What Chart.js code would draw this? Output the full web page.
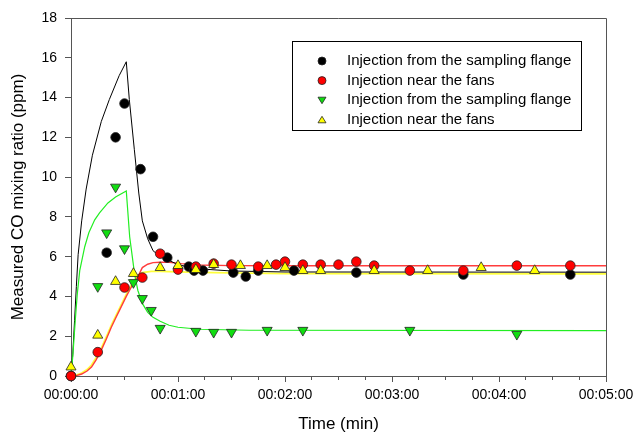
<!DOCTYPE html>
<html>
<head>
<meta charset="utf-8">
<script src="https://cdn.jsdelivr.net/npm/chart.js@4.4.1/dist/chart.umd.min.js"></script>
<style>
    body { margin: 0; background: #fff; }
    #wrap { width: 640px; height: 437px; }
</style>
</head>
<body>
<div id="wrap"><canvas id="coChart" width="640" height="437"></canvas></div>
<script>
// time in seconds, CO in ppm
const flangeT = [0, 20, 25, 30, 39, 46, 54, 66, 69, 74, 91, 98, 105, 125, 160, 220, 280];
const flangeY = [0, 6.2, 12.0, 13.7, 10.4, 7.0, 5.95, 5.5, 5.3, 5.3, 5.2, 5.0, 5.3, 5.3, 5.2, 5.1, 5.1];

const fansT = [0, 15, 30, 40, 50, 60, 70, 80, 90, 105, 115, 120, 130, 140, 150, 160, 170, 190, 220, 250, 280];
const fansY = [0, 1.2, 4.45, 4.95, 6.15, 5.35, 5.5, 5.65, 5.6, 5.5, 5.6, 5.75, 5.6, 5.6, 5.6, 5.75, 5.55, 5.3, 5.3, 5.55, 5.55];

const flange2T = [15, 20, 25, 30, 35, 40, 45, 50, 70, 80, 90, 110, 130, 190, 250];
const flange2Y = [4.5, 7.2, 9.5, 6.4, 4.7, 3.9, 3.3, 2.4, 2.25, 2.2, 2.2, 2.3, 2.3, 2.3, 2.1];

const fans2T = [0, 15, 25, 35, 50, 60, 70, 80, 95, 110, 120, 130, 140, 170, 200, 230, 260];
const fans2Y = [0.45, 2.05, 4.75, 5.15, 5.45, 5.55, 5.35, 5.6, 5.55, 5.55, 5.45, 5.3, 5.3, 5.3, 5.3, 5.45, 5.3];

// model curves
const flangeFitT = [0, 1, 2, 3, 4, 6, 8.5, 12, 17, 21.5, 27, 31, 32.7, 35.5, 38, 40, 43, 46, 50, 54, 60, 70, 90, 120, 300];
const flangeFitY = [0, 1.1, 2.8, 4.5, 6.1, 7.8, 9.4, 11.1, 12.8, 13.9, 15.1, 15.8, 13.9, 11.4, 9.2, 7.8, 6.9, 6.3, 6.0, 5.85, 5.6, 5.4, 5.28, 5.23, 5.22];

const fansFitT = [0, 3, 6, 9, 11.5, 14, 17, 20, 22.6, 25, 28, 31, 34, 37.5, 40, 43, 46, 50, 55, 62, 72, 90, 120, 300];
const fansFitY = [0, 0.02, 0.1, 0.25, 0.45, 0.8, 1.3, 1.9, 2.45, 2.9, 3.45, 4.0, 4.5, 5.0, 5.45, 5.62, 5.7, 5.72, 5.72, 5.65, 5.58, 5.55, 5.54, 5.54];

const flange2FitT = [0, 1, 2.4, 3.5, 4.9, 7.7, 10, 13.3, 16, 20.7, 25, 31, 32.9, 35.7, 37.5, 40, 43, 46, 50, 55, 60, 72, 100, 300];
const flange2FitY = [0, 1.0, 2.8, 4.1, 5.3, 6.5, 7.2, 7.85, 8.2, 8.7, 9.0, 9.3, 7.0, 5.1, 4.3, 3.65, 3.2, 2.95, 2.75, 2.55, 2.45, 2.35, 2.3, 2.28];

const fans2FitT = [0, 3, 6, 9, 11.5, 14, 17, 20, 22.6, 25, 28, 31, 34, 37, 40, 45, 50, 60, 80, 120, 300];
const fans2FitY = [0, 0.05, 0.15, 0.32, 0.55, 0.9, 1.4, 2.0, 2.55, 3.0, 3.55, 4.1, 4.6, 5.0, 5.2, 5.26, 5.26, 5.24, 5.2, 5.15, 5.13];

const seriesNames = ['Injection from the sampling flange', 'Injection near the fans',
                     'Injection from the sampling flange', 'Injection near the fans'];
const timeLabels = ['00:00:00', '00:01:00', '00:02:00', '00:03:00', '00:04:00', '00:05:00'];

function pairs(t, y) {
    return t.map(function(v, i) { return {x: v, y: y[i]}; });
}

const FONT = "'Liberation Sans', Arial, sans-serif";

function markerSet(label, t, y, fill, style, rotation, radius, order) {
    return {
        label: label,
        data: pairs(t, y),
        showLine: false,
        pointStyle: style,
        rotation: rotation,
        pointRadius: radius,
        pointBackgroundColor: fill,
        pointBorderColor: '#222',
        pointBorderWidth: 0.8,
        order: order,
        clip: false
    };
}

function curveSet(t, y, color, width, order) {
    return {
        data: pairs(t, y),
        showLine: true,
        borderColor: color,
        borderWidth: width,
        pointRadius: 0,
        tension: 0,
        order: order,
        clip: false
    };
}

// box round the plot and the legend inside it
const framePlugin = {
    id: 'frame',
    afterDraw: function(chart) {
        const ctx = chart.ctx;
        const a = chart.chartArea;
        ctx.save();
        ctx.strokeStyle = '#555';
        ctx.lineWidth = 1;
        ctx.beginPath();
        ctx.moveTo(a.left, a.top + 0.5);
        ctx.lineTo(a.right + 0.5, a.top + 0.5);
        ctx.lineTo(a.right + 0.5, a.bottom);
        ctx.stroke();

        // legend
        const bx = 292.5, by = 41.5, bw = 289, bh = 89;
        ctx.strokeStyle = '#000';
        ctx.strokeRect(bx, by, bw, bh);
        const marks = [
            {fill: '#000', style: 'circle'},
            {fill: '#ff0000', style: 'circle'},
            {fill: '#11dd11', style: 'down'},
            {fill: '#ffff00', style: 'up'}
        ];
        ctx.font = '15px ' + FONT;
        ctx.textBaseline = 'middle';
        for (let i = 0; i < seriesNames.length; i++) {
            const cy = 61 + i * 19.6;
            const cx = 322;
            const m = marks[i];
            ctx.fillStyle = m.fill;
            ctx.strokeStyle = '#222';
            ctx.lineWidth = 0.8;
            ctx.beginPath();
            if (m.style === 'circle') {
                ctx.arc(cx, cy, 4, 0, Math.PI * 2);
            } else if (m.style === 'down') {
                ctx.moveTo(cx - 4, cy - 3);
                ctx.lineTo(cx + 4, cy - 3);
                ctx.lineTo(cx, cy + 3.5);
                ctx.closePath();
            } else {
                ctx.moveTo(cx - 4, cy + 3);
                ctx.lineTo(cx + 4, cy + 3);
                ctx.lineTo(cx, cy - 3.5);
                ctx.closePath();
            }
            ctx.fill();
            ctx.stroke();
            ctx.fillStyle = '#000';
            ctx.fillText(seriesNames[i], 347, cy);
        }
        ctx.restore();
    }
};

document.addEventListener('DOMContentLoaded', function() {
    const ctx = document.getElementById('coChart');
    new Chart(ctx.getContext('2d'), {
        type: 'scatter',
        data: {
            datasets: [
                markerSet(seriesNames[0], flangeT, flangeY, '#000', 'circle', 0, 4.8, 3),
                markerSet(seriesNames[1], fansT, fansY, '#ff0000', 'circle', 0, 4.8, 1),
                markerSet(seriesNames[2], flange2T, flange2Y, '#11dd11', 'triangle', 180, 5.8, 2),
                markerSet(seriesNames[3], fans2T, fans2Y, '#ffff00', 'triangle', 0, 5.8, 0),
                curveSet(flangeFitT, flangeFitY, '#000', 1, 5),
                curveSet(fansFitT, fansFitY, 'rgb(255,60,60)', 1.4, 6),
                curveSet(flange2FitT, flange2FitY, '#22ee22', 1.2, 4),
                curveSet(fans2FitT, fans2FitY, 'rgb(255,255,60)', 1.8, 7)
            ]
        },
        options: {
            responsive: false,
            animation: false,
            layout: {
                padding: {left: 0, right: 34, top: 18, bottom: 0}
            },
            plugins: {
                legend: { display: false },
                tooltip: { enabled: false }
            },
            scales: {
                x: {
                    type: 'linear',
                    min: 0,
                    max: 300,
                    weight: 1,
                    afterFit: function(scale) { scale.height = 61; },
                    ticks: {
                        stepSize: 60,
                        autoSkip: false,
                        maxRotation: 0,
                        padding: 5,
                        color: '#000',
                        font: { family: FONT, size: 14 },
                        callback: function(value) {
                            return timeLabels[Math.round(value / 60)];
                        }
                    },
                    grid: {
                        drawOnChartArea: false,
                        tickLength: 6,
                        tickColor: '#555'
                    },
                    border: { color: '#555' },
                    title: {
                        display: true,
                        text: 'Time (min)',
                        color: '#000',
                        font: { family: FONT, size: 17 },
                        padding: { top: 0, bottom: 2 }
                    }
                },
                xMinor: {
                    type: 'linear',
                    position: 'bottom',
                    min: 0,
                    max: 300,
                    weight: 0,
                    afterFit: function(scale) { scale.height = 0; },
                    ticks: { stepSize: 15, display: false, autoSkip: false },
                    grid: {
                        drawOnChartArea: false,
                        tickLength: 4,
                        tickColor: '#555'
                    },
                    border: { display: false }
                },
                y: {
                    min: 0,
                    max: 18,
                    afterFit: function(scale) { scale.width = 71; },
                    ticks: {
                        stepSize: 2,
                        padding: 8,
                        color: '#000',
                        font: { family: FONT, size: 14 }
                    },
                    grid: {
                        drawOnChartArea: false,
                        tickLength: 6,
                        tickColor: '#555'
                    },
                    border: { color: '#555' },
                    title: {
                        display: true,
                        text: 'Measured CO mixing ratio (ppm)',
                        color: '#000',
                        font: { family: FONT, size: 17 },
                        padding: { top: 8, bottom: 0 }
                    }
                }
            }
        },
        plugins: [framePlugin]
    });
});
</script>
</body>
</html>
